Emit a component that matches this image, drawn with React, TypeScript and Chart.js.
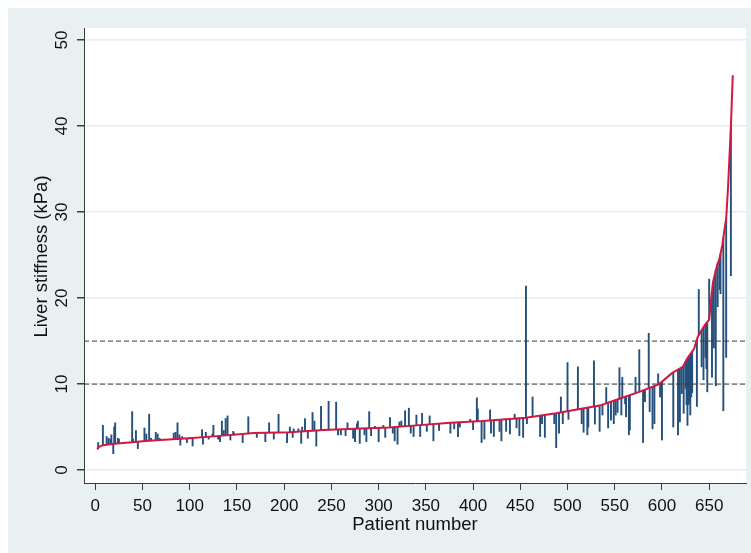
import React, { useEffect, useRef } from 'react';
import { Chart, registerables } from 'chart.js';

Chart.register(...registerables);

// Sorted liver stiffness (red line), read at knots along the curve
const curvePatients = [2, 4, 8, 20, 36, 50, 69, 99, 129, 168, 205, 242, 281, 311, 340, 376, 410, 456, 488, 513, 534, 555, 576, 597, 611, 622, 627, 634, 638, 645, 650, 652, 654, 657, 659, 661, 664, 666, 668, 670, 673, 675];
const curveValues = [2.4, 2.7, 2.9, 3.05, 3.2, 3.35, 3.5, 3.7, 3.95, 4.3, 4.4, 4.65, 4.85, 4.95, 5.2, 5.5, 5.7, 6.1, 6.6, 7.1, 7.5, 8.3, 9.1, 10.0, 11.3, 12.0, 13.0, 14.1, 15.5, 16.8, 17.5, 19.8, 21.8, 23.2, 24.0, 24.6, 26.2, 27.8, 29.2, 32.9, 39.9, 45.9];

// Blue spikes: patient number, value on the sorted curve, second measurement
const spikePatients = [3, 8, 12, 14, 16, 17, 19, 20, 21, 24, 25, 39, 40, 43, 45, 52, 54, 57, 59, 64, 66, 68, 83, 85, 87, 89, 90, 92, 97, 103, 113, 114, 117, 120, 124, 125, 130, 132, 134, 136, 138, 140, 143, 146, 147, 156, 162, 171, 180, 184, 189, 194, 203, 206, 209, 210, 215, 218, 219, 222, 225, 230, 232, 234, 239, 247, 255, 257, 260, 265, 267, 273, 275, 277, 278, 280, 285, 287, 290, 292, 296, 300, 305, 307, 312, 315, 317, 320, 322, 324, 328, 332, 334, 337, 340, 344, 346, 351, 354, 358, 364, 376, 380, 384, 386, 397, 400, 404, 405, 409, 412, 418, 419, 422, 428, 430, 435, 439, 444, 446, 449, 453, 456, 457, 463, 471, 473, 476, 486, 488, 491, 493, 495, 500, 501, 511, 515, 517, 521, 522, 528, 529, 534, 537, 541, 543, 546, 549, 551, 553, 555, 557, 558, 561, 562, 565, 566, 572, 576, 580, 582, 586, 587, 590, 592, 596, 598, 600, 612, 617, 619, 621, 623, 625, 626, 627, 628, 629, 630, 631, 632, 637, 639, 642, 644, 646, 647, 648, 650, 653, 655, 657, 659, 661, 662, 665, 668, 673];
const spikeBase = [2.6, 2.9, 2.95, 2.97, 3.0, 3.0, 3.03, 3.05, 3.06, 3.09, 3.1, 3.23, 3.24, 3.27, 3.29, 3.37, 3.38, 3.41, 3.43, 3.46, 3.48, 3.49, 3.59, 3.6, 3.62, 3.63, 3.64, 3.65, 3.69, 3.73, 3.82, 3.82, 3.85, 3.87, 3.91, 3.92, 3.96, 3.98, 4.0, 4.01, 4.03, 4.05, 4.08, 4.1, 4.11, 4.19, 4.25, 4.31, 4.33, 4.34, 4.36, 4.37, 4.4, 4.41, 4.43, 4.43, 4.47, 4.49, 4.5, 4.52, 4.54, 4.57, 4.58, 4.6, 4.63, 4.68, 4.72, 4.73, 4.75, 4.77, 4.78, 4.81, 4.82, 4.83, 4.83, 4.84, 4.86, 4.87, 4.88, 4.89, 4.9, 4.91, 4.93, 4.94, 4.96, 4.98, 5.0, 5.03, 5.04, 5.06, 5.1, 5.13, 5.15, 5.17, 5.2, 5.23, 5.25, 5.29, 5.32, 5.35, 5.4, 5.5, 5.52, 5.55, 5.56, 5.62, 5.64, 5.67, 5.67, 5.69, 5.72, 5.77, 5.78, 5.8, 5.86, 5.87, 5.92, 5.95, 5.99, 6.01, 6.04, 6.07, 6.1, 6.11, 6.21, 6.34, 6.37, 6.41, 6.57, 6.6, 6.66, 6.7, 6.74, 6.84, 6.86, 7.06, 7.14, 7.18, 7.25, 7.27, 7.39, 7.4, 7.5, 7.61, 7.77, 7.84, 7.96, 8.07, 8.15, 8.22, 8.3, 8.38, 8.41, 8.52, 8.56, 8.67, 8.71, 8.95, 9.1, 9.27, 9.36, 9.53, 9.57, 9.7, 9.79, 9.96, 10.1, 10.28, 11.36, 11.68, 11.81, 11.94, 12.2, 12.6, 12.8, 13.0, 13.15, 13.3, 13.5, 13.6, 13.8, 15.2, 15.7, 16.25, 16.6, 16.95, 17.1, 17.2, 17.5, 20.8, 22.3, 23.2, 24.0, 24.6, 25.1, 27.0, 29.2, 39.9];
const spikeValue = [3.2, 5.2, 3.9, 3.7, 3.6, 4.1, 1.9, 5.0, 5.5, 3.7, 3.6, 6.8, 3.6, 4.6, 2.5, 4.9, 4.2, 6.5, 3.7, 4.4, 4.2, 3.7, 4.3, 4.4, 5.5, 4.1, 2.9, 3.9, 3.2, 2.8, 4.7, 3.0, 4.4, 3.6, 4.2, 5.2, 3.6, 3.3, 5.7, 4.6, 6.0, 6.3, 3.5, 4.5, 4.3, 3.2, 6.2, 3.8, 3.3, 5.5, 3.6, 6.5, 3.2, 5.0, 3.8, 4.8, 4.8, 3.1, 5.0, 6.0, 3.7, 6.7, 5.7, 2.8, 7.4, 8.0, 7.9, 4.1, 4.1, 4.0, 5.5, 3.7, 3.3, 5.4, 5.7, 3.1, 4.1, 3.3, 6.8, 4.0, 5.1, 3.3, 5.2, 3.8, 6.1, 4.3, 3.4, 3.0, 5.6, 5.7, 6.9, 7.2, 4.3, 3.9, 6.4, 3.9, 6.6, 4.5, 6.3, 3.4, 4.6, 4.3, 4.8, 3.9, 5.0, 5.9, 4.7, 8.4, 7.1, 3.2, 3.6, 7.0, 4.3, 3.9, 4.5, 3.4, 4.5, 4.2, 6.5, 4.9, 4.0, 3.8, 21.4, 5.4, 8.5, 3.9, 5.4, 3.8, 5.4, 2.6, 4.3, 8.5, 5.4, 12.5, 5.9, 12.0, 5.4, 4.4, 4.1, 5.0, 12.7, 5.35, 4.5, 6.4, 9.6, 4.9, 5.8, 5.4, 6.4, 6.7, 11.9, 6.4, 10.8, 7.7, 6.2, 4.1, 4.65, 10.8, 14.0, 3.2, 7.95, 15.9, 6.8, 4.8, 5.4, 11.2, 8.5, 3.5, 5.0, 4.1, 5.6, 8.9, 6.6, 9.5, 7.6, 5.2, 7.6, 7.9, 6.4, 8.5, 9.0, 7.4, 21.0, 12.0, 10.5, 13.1, 11.8, 9.1, 22.2, 10.8, 14.2, 9.8, 19.0, 21.0, 20.5, 6.9, 13.1, 22.6];

const xTickValues = [0, 50, 100, 150, 200, 250, 300, 350, 400, 450, 500, 550, 600, 650];
const yTickValues = [0, 10, 20, 30, 40, 50];
const refValues = [10, 15];

const xTitle = 'Patient number';
const yTitle = 'Liver stiffness (kPa)';

const X_MIN = -12;
const X_MAX = 689;
const Y_MIN = -1.5;
const Y_MAX = 51.4;

const FONT = '"Liberation Sans", Arial, Helvetica, sans-serif';
const PANEL = '#e9f0f2';
const GRID = '#e3ecef';
const AXIS = '#3c3c3c';
const NAVY = '#24507b';
const RED = '#d3173f';

const backgroundPlugin = {
  id: 'panelBackground',
  beforeDraw(chart: any) {
    const { ctx, chartArea, width, height } = chart;
    ctx.save();
    ctx.fillStyle = PANEL;
    ctx.fillRect(0, 0, width, height);
    ctx.fillStyle = '#ffffff';
    ctx.fillRect(chartArea.left, chartArea.top, chartArea.right - chartArea.left, chartArea.bottom - chartArea.top);
    ctx.restore();
  },
};

const textPlugin = {
  id: 'axisTexts',
  afterDraw(chart: any) {
    const { ctx, chartArea } = chart;
    const yScale = chart.scales.y;
    ctx.save();
    ctx.fillStyle = '#111';
    ctx.textAlign = 'center';
    ctx.textBaseline = 'middle';
    // rotated y tick labels
    ctx.font = `17px ${FONT}`;
    for (const v of yTickValues) {
      const py = yScale.getPixelForValue(v);
      ctx.save();
      ctx.translate(54, py);
      ctx.rotate(-Math.PI / 2);
      ctx.fillText(String(v), 0, 0);
      ctx.restore();
    }
    // y title
    ctx.font = `18.5px ${FONT}`;
    ctx.save();
    ctx.translate(34, (chartArea.top + chartArea.bottom) / 2 + 1);
    ctx.rotate(-Math.PI / 2);
    ctx.fillText(yTitle, 0, 0);
    ctx.restore();
    // x title
    ctx.fillText(xTitle, (chartArea.left + chartArea.right) / 2, 517);
    ctx.restore();
  },
};

export default function App() {
  const ref = useRef<HTMLCanvasElement>(null);

  useEffect(() => {
    const canvas = ref.current;
    if (!canvas) return;

    const spikeData = spikePatients.map((p, i) => ({ x: p, y: [spikeBase[i], spikeValue[i]] }));
    const curveData = curvePatients.map((p, i) => ({ x: p, y: curveValues[i] }));

    const refDatasets = refValues.map((v) => ({
      type: 'line' as const,
      data: [
        { x: X_MIN, y: v },
        { x: X_MAX, y: v },
      ],
      borderColor: '#3a3a3a',
      borderWidth: 1,
      borderDash: [5, 3],
      pointRadius: 0,
      order: 1,
    }));

    const chart = new Chart(canvas, {
      type: 'bar',
      data: {
        datasets: [
          {
            type: 'bar',
            data: spikeData as any,
            backgroundColor: NAVY,
            borderWidth: 0,
            barThickness: 1.25,
            grouped: false,
            order: 3,
          } as any,
          ...refDatasets,
          {
            type: 'line',
            data: curveData,
            borderColor: RED,
            borderWidth: 2,
            pointRadius: 0,
            tension: 0,
            order: 0,
          } as any,
        ],
      },
      options: {
        responsive: false,
        animation: false,
        devicePixelRatio: 1,
        events: [],
        layout: { padding: { left: 0, top: 20, right: 5, bottom: 0 } },
        plugins: {
          legend: { display: false },
          tooltip: { enabled: false },
        },
        scales: {
          x: {
            type: 'linear',
            min: X_MIN,
            max: X_MAX,
            offset: false,
            afterBuildTicks: (scale: any) => {
              scale.ticks = xTickValues.map((v) => ({ value: v }));
            },
            afterFit: (scale: any) => {
              scale.height = 70;
            },
            grid: {
              drawOnChartArea: false,
              drawTicks: true,
              tickLength: 7,
              tickColor: AXIS,
              offset: false,
            },
            border: { display: true, color: AXIS, width: 1 },
            ticks: {
              autoSkip: false,
              maxRotation: 0,
              minRotation: 0,
              padding: 6,
              color: '#111',
              font: { family: FONT, size: 17 },
              callback: (v: any) => String(v),
            },
          },
          y: {
            type: 'linear',
            min: Y_MIN,
            max: Y_MAX,
            afterBuildTicks: (scale: any) => {
              scale.ticks = yTickValues.map((v) => ({ value: v }));
            },
            afterFit: (scale: any) => {
              scale.width = 76;
            },
            grid: {
              color: GRID,
              lineWidth: 1.5,
              drawTicks: true,
              tickLength: 7,
              tickColor: AXIS,
            },
            border: { display: true, color: AXIS, width: 1 },
            ticks: { display: false },
          },
        },
      } as any,
      plugins: [backgroundPlugin, textPlugin],
    });

    return () => chart.destroy();
  }, []);

  return (
    <div style={{ position: 'fixed', left: 0, top: 0, width: 751, height: 553, background: '#ffffff', overflow: 'hidden' }}>
      <canvas
        ref={ref}
        width={743}
        height={545}
        style={{ position: 'absolute', left: 8, top: 8, width: 743, height: 545 }}
      />
    </div>
  );
}
